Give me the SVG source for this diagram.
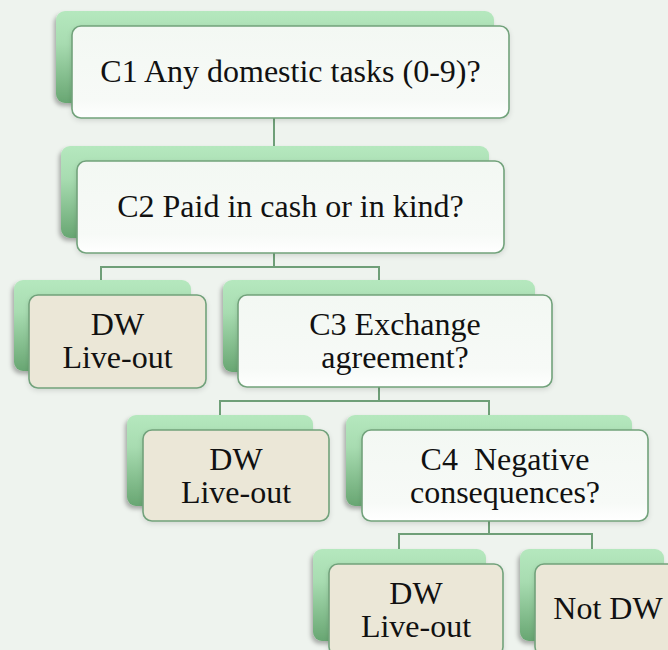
<svg xmlns="http://www.w3.org/2000/svg" width="668" height="650" viewBox="0 0 668 650">
<defs>
<linearGradient id="gBack" x1="0" y1="0" x2="0" y2="1">
<stop offset="0" stop-color="#b5e8be"/>
<stop offset="0.35" stop-color="#a8dcb1"/>
<stop offset="1" stop-color="#68a672"/>
</linearGradient>
<linearGradient id="gFront" x1="0" y1="0" x2="0" y2="1">
<stop offset="0" stop-color="#f3f8f3"/>
<stop offset="0.8" stop-color="#f7faf7"/>
<stop offset="1" stop-color="#ffffff"/>
</linearGradient>
<linearGradient id="gLeaf" x1="0" y1="0" x2="0" y2="1">
<stop offset="0" stop-color="#ebe7d7"/>
<stop offset="1" stop-color="#ebe7d7"/>
</linearGradient>
<filter id="shBack" x="-10%" y="-10%" width="120%" height="130%">
<feDropShadow dx="-2" dy="3" stdDeviation="2" flood-color="#000" flood-opacity="0.3"/>
</filter>
<filter id="shFront" x="-10%" y="-10%" width="120%" height="130%">
<feDropShadow dx="0" dy="2" stdDeviation="2.5" flood-color="#000" flood-opacity="0.12"/>
</filter>
<style>
.back{fill:url(#gBack);filter:url(#shBack);}
.front{fill:url(#gFront);stroke:#72a27b;stroke-width:1.6;filter:url(#shFront);}
.leaf{fill:url(#gLeaf);stroke:#72a27b;stroke-width:1.6;filter:url(#shFront);}
.t{font-family:"Liberation Serif","Times New Roman",serif;font-size:32px;fill:#111;text-anchor:middle;}
.c{fill:none;stroke:#6f9f78;stroke-width:2;}
</style>
</defs>
<rect width="668" height="650" fill="#eef3ee"/>
<g id="connectors">
<path class="c" d="M274 118V146"/>
<path class="c" d="M274 253V267M101 280V267H379V280"/>
<path class="c" d="M379 387V401M220 415V401H489V415"/>
<path class="c" d="M489 521V534M399 549V534H592V549"/>
</g>
<g id="c1">
<rect class="back" x="56" y="11" width="438" height="92" rx="9"/>
<rect class="front" x="72" y="26" width="437" height="92" rx="9"/>
<text class="t" x="290.5" y="82">C1 Any domestic tasks (0-9)?</text>
</g>
<g id="c2">
<rect class="back" x="61" y="146" width="428" height="92" rx="9"/>
<rect class="front" x="77" y="161" width="427" height="92" rx="9"/>
<text class="t" x="290.5" y="217">C2 Paid in cash or in kind?</text>
</g>
<g id="dw1">
<rect class="back" x="14" y="280" width="177" height="91" rx="9"/>
<rect class="leaf" x="29" y="295" width="177" height="93" rx="9"/>
<text class="t" x="117.5" y="335">DW</text>
<text class="t" x="117.5" y="368">Live-out</text>
</g>
<g id="c3">
<rect class="back" x="223" y="280" width="312" height="92" rx="9"/>
<rect class="front" x="238" y="295" width="314" height="92" rx="9"/>
<text class="t" x="395" y="335">C3 Exchange</text>
<text class="t" x="395" y="368">agreement?</text>
</g>
<g id="dw2">
<rect class="back" x="127" y="415" width="186" height="91" rx="9"/>
<rect class="leaf" x="143" y="430" width="186" height="91" rx="9"/>
<text class="t" x="236" y="470">DW</text>
<text class="t" x="236" y="503">Live-out</text>
</g>
<g id="c4">
<rect class="back" x="346" y="415" width="286" height="91" rx="9"/>
<rect class="front" x="362" y="430" width="286" height="91" rx="9"/>
<text class="t" x="505" y="470" xml:space="preserve">C4  Negative</text>
<text class="t" x="505" y="503">consequences?</text>
</g>
<g id="dw3">
<rect class="back" x="313" y="549" width="173" height="92" rx="9"/>
<rect class="leaf" x="329" y="564" width="174" height="92" rx="9"/>
<text class="t" x="416" y="604">DW</text>
<text class="t" x="416" y="637">Live-out</text>
</g>
<g id="notdw">
<rect class="back" x="520" y="549" width="144" height="92" rx="9"/>
<rect class="leaf" x="535" y="564" width="146" height="92" rx="9"/>
<text class="t" x="608" y="619">Not DW</text>
</g>
</svg>
